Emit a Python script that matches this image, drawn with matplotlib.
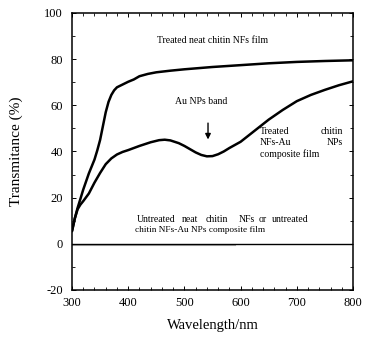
import matplotlib
matplotlib.use("Agg")
import matplotlib.pyplot as plt
from matplotlib.ticker import MultipleLocator

# Treated neat chitin NFs film
wl_neat = [300, 305, 310, 315, 320, 325, 330, 335, 340, 345, 350, 355, 360, 365, 370, 375,
           380, 390, 400, 410, 420, 435, 450, 475, 500, 550, 600, 650, 700, 750, 800]
t_neat = [5.5, 11, 15.6, 19.5, 23.5, 27, 30.5, 33.5, 36.5, 40.5, 45, 51, 57, 61.5, 64.5, 66.5,
          67.8, 69, 70.2, 71.2, 72.6, 73.6, 74.3, 75, 75.6, 76.6, 77.4, 78.2, 78.8, 79.2, 79.5]

# Treated chitin NFs-Au NPs composite film
wl_comp = [300, 305, 310, 315, 320, 330, 340, 350, 360, 370, 380, 390, 400, 420, 440, 455,
           465, 475, 490, 500, 510, 520, 530, 540, 550, 560, 570, 580, 600, 625, 650, 675,
           700, 725, 750, 775, 800]
t_comp = [5.5, 11, 15, 17, 18.5, 21.8, 26.5, 30.7, 34.5, 37, 38.7, 39.8, 40.6, 42.4, 44, 44.9,
          45.1, 44.8, 43.6, 42.4, 41, 39.6, 38.5, 37.9, 38.0, 38.8, 40, 41.5, 44.2, 49, 53.8, 58,
          61.8, 64.5, 66.7, 68.7, 70.4]

# Untreated films
wl_untr = [300, 800]
t_untr = [0, 0]
wl_untr2 = [300, 590]
t_untr2 = [-0.5, -0.5]

xticks = [300, 400, 500, 600, 700, 800]
yticks = [-20, 0, 20, 40, 60, 80, 100]

plt.rcParams["font.family"] = ["Liberation Serif", "DejaVu Serif"]
plt.rcParams["axes.unicode_minus"] = False

fig = plt.figure(figsize=(3.7, 3.37), dpi=100)
ax = fig.add_axes([0.1946, 0.1395, 0.7595, 0.822])

ax.plot(wl_untr2, t_untr2, color="#b0b0b0", lw=0.8)
ax.plot(wl_untr, t_untr, color="black", lw=1.0)
ax.plot(wl_neat, t_neat, color="black", lw=1.8, solid_capstyle="round")
ax.plot(wl_comp, t_comp, color="black", lw=1.8, solid_capstyle="round")

ax.set_xlim(300, 800)
ax.set_ylim(-20, 100)
ax.set_xticks(xticks)
ax.set_yticks(yticks)
ax.xaxis.set_minor_locator(MultipleLocator(20))
ax.yaxis.set_minor_locator(MultipleLocator(10))
ax.tick_params(which="both", direction="in", top=True, right=True, labelsize=9)
ax.tick_params(which="major", length=3, width=0.7)
ax.tick_params(which="minor", length=2.5, width=0.6)
ax.tick_params(axis="y", which="major", pad=6.5)
ax.tick_params(axis="x", which="major", pad=5)
for s in ax.spines.values():
    s.set_linewidth(1.1)

ax.set_xlabel("Wavelength/nm", fontsize=10.5)
ax.xaxis.set_label_coords(0.5, -0.105)
ax.set_ylabel("Transmitance (%)", fontsize=11)
ax.yaxis.set_label_coords(-0.175, 0.5)

fs = 7
ax.text(550, 88, "Treated neat chitin NFs film", fontsize=fs, ha="center", va="center")
ax.text(530, 61.5, "Au NPs band", fontsize=fs, ha="center", va="center")
ax.annotate("", xy=(542, 44), xytext=(542, 53.5),
            arrowprops=dict(arrowstyle="-|>", color="black", lw=1.0, mutation_scale=8))

# justified block on the right
ax.text(634, 48.5, "Treated", fontsize=fs, ha="left", va="center")
ax.text(782, 48.5, "chitin", fontsize=fs, ha="right", va="center")
ax.text(634, 43.7, "NFs-Au", fontsize=fs, ha="left", va="center")
ax.text(782, 43.7, "NPs", fontsize=fs, ha="right", va="center")
ax.text(634, 39, "composite film", fontsize=fs, ha="left", va="center")

# bottom text, first line justified
words = ["Untreated", "neat", "chitin", "NFs", "or"]
xs = [415.7, 495.7, 538.4, 597, 632.7]
for w, x in zip(words, xs):
    ax.text(x, 10.5, w, fontsize=fs, ha="left", va="center")
ax.text(720, 10.5, "untreated", fontsize=fs, ha="right", va="center")
ax.text(412, 6.2, "chitin NFs-Au NPs composite film", fontsize=6.7, ha="left", va="center")

fig.savefig("out.png", dpi=100)
